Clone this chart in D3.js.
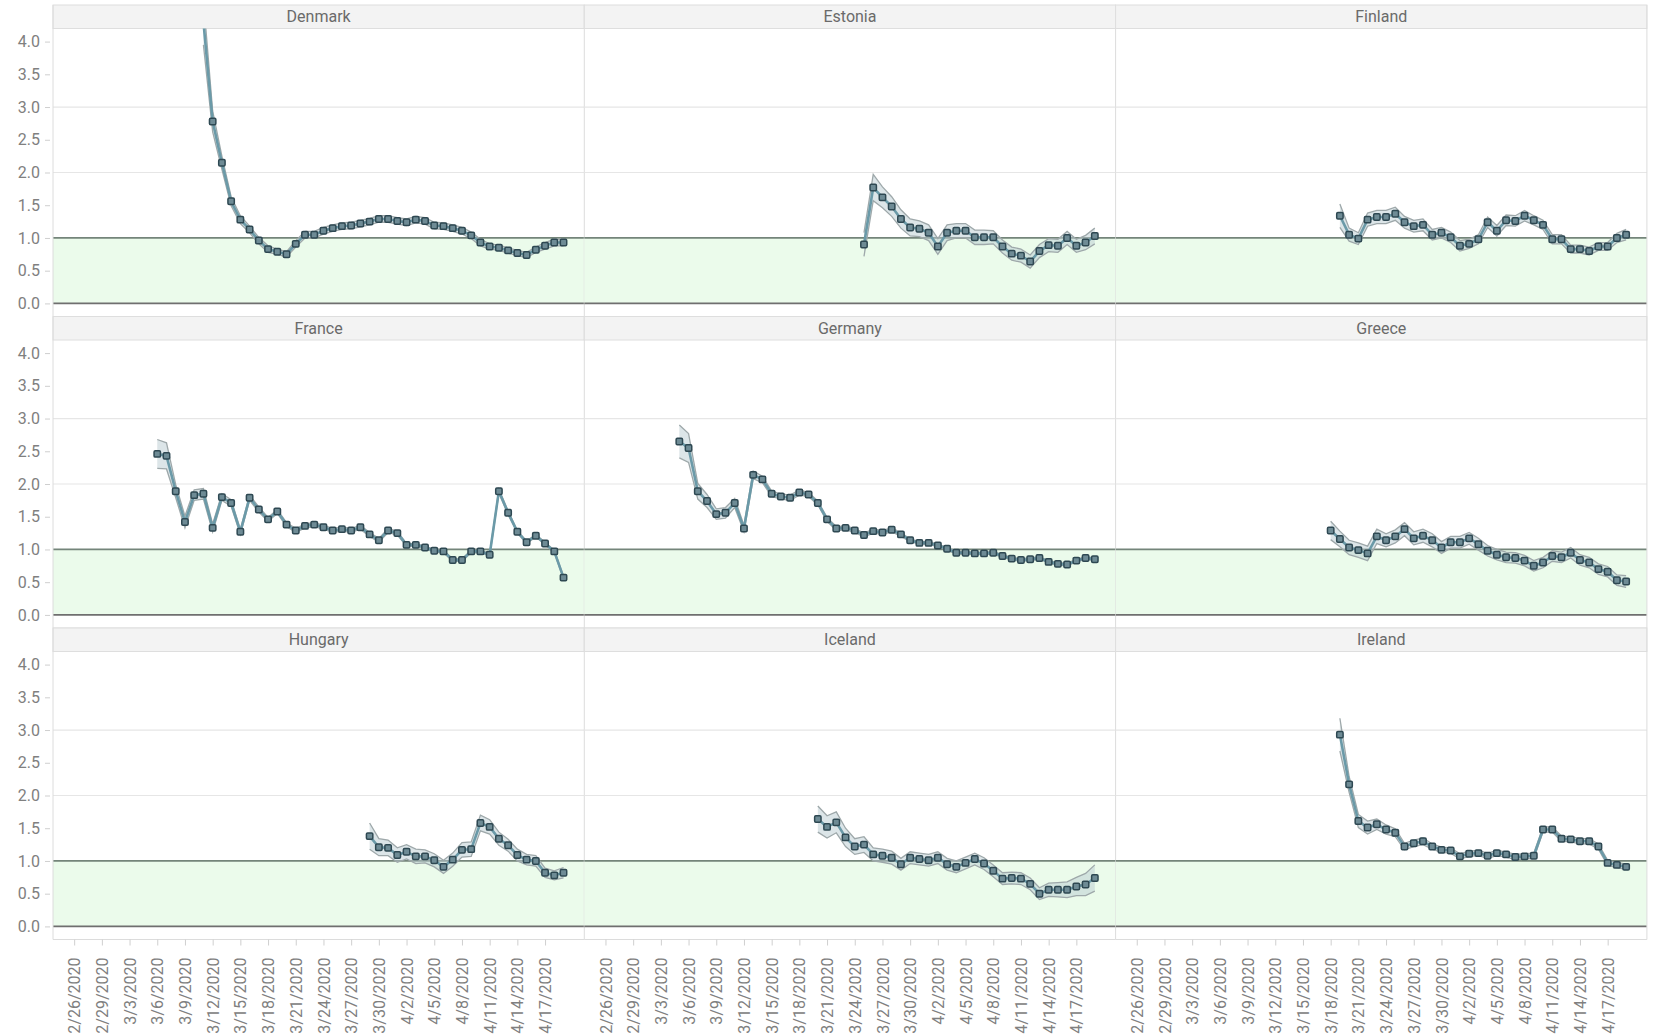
<!DOCTYPE html>
<html>
<head>
<meta charset="utf-8">
<script src="https://cdn.jsdelivr.net/npm/d3@7"></script>
<style>
  body { margin: 0; background: #fff; }
  svg { font-family: Roboto, "Noto Sans", sans-serif; }
</style>
</head>
<body>
<svg id="chart" width="1661" height="1035"></svg>
<script>
// Daily reproduction number estimates (Rt) with interval half-widths, per country.
const countries = ["Denmark", "Estonia", "Finland", "France", "Germany", "Greece", "Hungary", "Iceland", "Ireland"];
const startDates = ["2020-03-11", "2020-03-25", "2020-03-19", "2020-03-06", "2020-03-05", "2020-03-18", "2020-03-29", "2020-03-20", "2020-03-19"];

const tickLabels = ["2/26/2020", "2/29/2020", "3/3/2020", "3/6/2020", "3/9/2020", "3/12/2020", "3/15/2020", "3/18/2020",
  "3/21/2020", "3/24/2020", "3/27/2020", "3/30/2020", "4/2/2020", "4/5/2020", "4/8/2020", "4/11/2020", "4/14/2020", "4/17/2020"];
const yTicks = [0, 0.5, 1, 1.5, 2, 2.5, 3, 3.5, 4];

const rDenmark = [4.30, 2.78, 2.15, 1.56, 1.28, 1.13, 0.96, 0.83, 0.79, 0.75, 0.91, 1.05, 1.05, 1.11, 1.15, 1.18, 1.19, 1.22, 1.25, 1.29,
  1.29, 1.26, 1.24, 1.28, 1.26, 1.19, 1.18, 1.15, 1.11, 1.04, 0.93, 0.87, 0.85, 0.81, 0.77, 0.74, 0.82, 0.88, 0.93, 0.93];
const ciDenmark = [0.35, 0.16, 0.10, 0.07, 0.06, 0.05, 0.05, 0.05, 0.04, 0.04, 0.05, 0.05, 0.05, 0.05, 0.05, 0.05, 0.05, 0.05, 0.05, 0.05,
  0.05, 0.05, 0.05, 0.05, 0.05, 0.05, 0.05, 0.05, 0.05, 0.05, 0.05, 0.04, 0.04, 0.04, 0.04, 0.04, 0.04, 0.05, 0.05, 0.05];

const rEstonia = [0.90, 1.77, 1.62, 1.48, 1.29, 1.16, 1.14, 1.08, 0.87, 1.08, 1.11, 1.11, 1.01, 1.01, 1.01, 0.87, 0.76, 0.73, 0.64, 0.80,
  0.89, 0.88, 1.00, 0.88, 0.93, 1.03];
const ciEstonia = [0.18, 0.20, 0.16, 0.15, 0.14, 0.13, 0.12, 0.12, 0.12, 0.12, 0.11, 0.11, 0.11, 0.11, 0.10, 0.10, 0.10, 0.10, 0.10, 0.10,
  0.10, 0.10, 0.10, 0.10, 0.11, 0.12];

const rFinland = [1.34, 1.05, 0.99, 1.28, 1.32, 1.32, 1.37, 1.24, 1.18, 1.20, 1.05, 1.08, 1.01, 0.88, 0.91, 0.98, 1.24, 1.11, 1.27, 1.26,
  1.34, 1.27, 1.20, 0.98, 0.98, 0.83, 0.83, 0.80, 0.87, 0.87, 1.00, 1.05];
const ciFinland = [0.18, 0.10, 0.09, 0.10, 0.10, 0.10, 0.10, 0.09, 0.09, 0.09, 0.08, 0.08, 0.08, 0.08, 0.07, 0.07, 0.08, 0.08, 0.08, 0.08,
  0.08, 0.07, 0.07, 0.07, 0.07, 0.06, 0.06, 0.06, 0.06, 0.06, 0.07, 0.08];

const rFrance = [2.46, 2.43, 1.89, 1.42, 1.83, 1.85, 1.33, 1.80, 1.71, 1.27, 1.79, 1.61, 1.46, 1.58, 1.38, 1.29, 1.36, 1.38, 1.34, 1.29,
  1.31, 1.29, 1.34, 1.23, 1.14, 1.29, 1.25, 1.07, 1.07, 1.03, 0.98, 0.97, 0.84, 0.84, 0.97, 0.97, 0.92, 1.89, 1.56, 1.27,
  1.11, 1.21, 1.09, 0.97, 0.57];
const ciFrance = [0.22, 0.20, 0.10, 0.09, 0.08, 0.08, 0.06, 0.05, 0.05, 0.04, 0.04, 0.04, 0.03, 0.03, 0.03, 0.03, 0.03, 0.03, 0.03, 0.03,
  0.03, 0.03, 0.03, 0.03, 0.03, 0.03, 0.03, 0.02, 0.02, 0.02, 0.02, 0.02, 0.02, 0.02, 0.02, 0.02, 0.02, 0.03, 0.03, 0.02,
  0.02, 0.02, 0.02, 0.02, 0.02];

const rGermany = [2.65, 2.55, 1.89, 1.74, 1.54, 1.56, 1.71, 1.32, 2.14, 2.07, 1.85, 1.81, 1.79, 1.87, 1.84, 1.71, 1.46, 1.32, 1.33, 1.29,
  1.22, 1.28, 1.26, 1.30, 1.23, 1.14, 1.10, 1.10, 1.06, 1.01, 0.95, 0.95, 0.94, 0.94, 0.95, 0.90, 0.86, 0.84, 0.85, 0.87,
  0.81, 0.78, 0.77, 0.83, 0.87, 0.85];
const ciGermany = [0.25, 0.22, 0.12, 0.10, 0.08, 0.08, 0.07, 0.05, 0.06, 0.05, 0.04, 0.04, 0.04, 0.04, 0.03, 0.03, 0.03, 0.03, 0.03, 0.03,
  0.03, 0.03, 0.03, 0.03, 0.03, 0.02, 0.02, 0.02, 0.02, 0.02, 0.02, 0.02, 0.02, 0.02, 0.02, 0.02, 0.02, 0.02, 0.02, 0.02,
  0.02, 0.02, 0.02, 0.02, 0.02, 0.02];

const rGreece = [1.29, 1.16, 1.03, 0.99, 0.94, 1.20, 1.14, 1.20, 1.31, 1.17, 1.21, 1.14, 1.03, 1.11, 1.11, 1.17, 1.08, 0.98, 0.92, 0.88,
  0.87, 0.83, 0.75, 0.80, 0.90, 0.88, 0.95, 0.84, 0.80, 0.70, 0.66, 0.53, 0.51];
const ciGreece = [0.14, 0.12, 0.11, 0.11, 0.11, 0.11, 0.10, 0.10, 0.10, 0.10, 0.10, 0.10, 0.09, 0.09, 0.09, 0.09, 0.09, 0.08, 0.08, 0.08,
  0.08, 0.08, 0.08, 0.08, 0.08, 0.08, 0.08, 0.08, 0.08, 0.08, 0.08, 0.08, 0.09];

const rHungary = [1.38, 1.21, 1.20, 1.09, 1.14, 1.07, 1.07, 1.01, 0.91, 1.02, 1.17, 1.18, 1.58, 1.52, 1.34, 1.24, 1.09, 1.02, 1.00, 0.82,
  0.78, 0.82];
const ciHungary = [0.20, 0.13, 0.12, 0.11, 0.11, 0.11, 0.10, 0.10, 0.10, 0.10, 0.11, 0.11, 0.12, 0.11, 0.10, 0.09, 0.09, 0.08, 0.08, 0.07,
  0.07, 0.08];

const rIceland = [1.64, 1.52, 1.59, 1.36, 1.22, 1.25, 1.10, 1.08, 1.05, 0.95, 1.05, 1.03, 1.01, 1.05, 0.95, 0.91, 0.97, 1.03, 0.96, 0.85,
  0.73, 0.74, 0.73, 0.65, 0.50, 0.56, 0.56, 0.56, 0.61, 0.64, 0.74];
const ciIceland = [0.20, 0.17, 0.16, 0.14, 0.12, 0.12, 0.10, 0.10, 0.10, 0.09, 0.09, 0.09, 0.09, 0.09, 0.09, 0.09, 0.09, 0.09, 0.09, 0.09,
  0.09, 0.09, 0.09, 0.09, 0.09, 0.10, 0.11, 0.12, 0.14, 0.17, 0.20];

const rIreland = [2.93, 2.17, 1.61, 1.51, 1.56, 1.48, 1.43, 1.22, 1.27, 1.30, 1.22, 1.17, 1.16, 1.07, 1.11, 1.12, 1.08, 1.12, 1.10, 1.06,
  1.07, 1.08, 1.48, 1.48, 1.34, 1.33, 1.30, 1.30, 1.22, 0.97, 0.94, 0.91];
const ciIreland = [0.25, 0.12, 0.10, 0.10, 0.08, 0.07, 0.06, 0.05, 0.05, 0.05, 0.04, 0.04, 0.04, 0.04, 0.04, 0.04, 0.04, 0.04, 0.04, 0.04,
  0.04, 0.04, 0.04, 0.04, 0.04, 0.04, 0.04, 0.04, 0.04, 0.04, 0.04, 0.04];

const rValues = [rDenmark, rEstonia, rFinland, rFrance, rGermany, rGreece, rHungary, rIceland, rIreland];
const ciValues = [ciDenmark, ciEstonia, ciFinland, ciFrance, ciGermany, ciGreece, ciHungary, ciIceland, ciIreland];

// ---- layout ----
const svg = d3.select("#chart");
const left = 53, top0 = 5;
const colW = 531.3, rowH = 311.5, headH = 23.5;
const plotH = rowH - headH;

const parseDay = d3.utcParse("%Y-%m-%d");
const parseTick = d3.utcParse("%m/%d/%Y");

const x = d3.scaleUtc()
  .domain([Date.UTC(2020, 1, 23, 17), Date.UTC(2020, 3, 21, 6)])
  .range([0, colW]);
const y = d3.scaleLinear().domain([-0.2, 4.2]).range([plotH, 0]);

const defs = svg.append("defs");
defs.append("clipPath").attr("id", "plotClip")
  .append("rect").attr("x", 0).attr("y", 0).attr("width", colW).attr("height", plotH);

const series = countries.map((name, i) => {
  const start = parseDay(startDates[i]);
  return {
    name,
    points: rValues[i].map((v, k) => ({
      date: d3.utcDay.offset(start, k),
      r: v,
      lo: v - ciValues[i][k],
      hi: v + ciValues[i][k]
    }))
  };
});

const lineMain = d3.line().x(d => x(d.date)).y(d => y(d.r));
const lineLo = d3.line().x(d => x(d.date)).y(d => y(d.lo));
const lineHi = d3.line().x(d => x(d.date)).y(d => y(d.hi));
const band = d3.area().x(d => x(d.date)).y0(d => y(d.lo)).y1(d => y(d.hi));

series.forEach((s, i) => {
  const col = i % 3, row = Math.floor(i / 3);
  const g = svg.append("g").attr("transform", `translate(${left + col * colW},${top0 + row * rowH})`);

  // facet header
  g.append("rect").attr("x", 0).attr("y", 0).attr("width", colW).attr("height", headH)
    .attr("fill", "#f3f3f3").attr("stroke", "#dedede").attr("stroke-width", 1);
  g.append("text").attr("x", colW / 2).attr("y", headH / 2 + 5.5)
    .attr("text-anchor", "middle").attr("font-size", 16).attr("fill", "#6a6a6a")
    .text(s.name);

  const p = g.append("g").attr("transform", `translate(0,${headH})`);

  // region below R = 1
  p.append("rect").attr("x", 0).attr("width", colW)
    .attr("y", y(1)).attr("height", y(0) - y(1))
    .attr("fill", "#ebfbeb");

  // light gridlines
  [2, 3].forEach(v => {
    p.append("line").attr("x1", 0).attr("x2", colW).attr("y1", y(v)).attr("y2", y(v))
      .attr("stroke", "#e6e6e6").attr("stroke-width", 1.2);
  });
  p.append("line").attr("x1", 0).attr("x2", colW).attr("y1", y(1)).attr("y2", y(1))
    .attr("stroke", "#74857a").attr("stroke-width", 1.8);
  p.append("line").attr("x1", 0).attr("x2", colW).attr("y1", y(0)).attr("y2", y(0))
    .attr("stroke", "#6f6f6f").attr("stroke-width", 1.8);

  // panel frame
  g.append("line").attr("x1", colW).attr("x2", colW).attr("y1", 0).attr("y2", rowH)
    .attr("stroke", "#dcdcdc");
  if (col === 0) {
    g.append("line").attr("x1", 0).attr("x2", 0).attr("y1", 0).attr("y2", rowH)
      .attr("stroke", "#dcdcdc");
  }
  g.append("line").attr("x1", 0).attr("x2", colW).attr("y1", rowH).attr("y2", rowH)
    .attr("stroke", "#dcdcdc");

  const marks = p.append("g").attr("clip-path", "url(#plotClip)");
  marks.append("path").datum(s.points).attr("d", band)
    .attr("fill", "#b9ccd2").attr("fill-opacity", 0.5);
  marks.append("path").datum(s.points).attr("d", lineHi)
    .attr("fill", "none").attr("stroke", "#9ea8aa").attr("stroke-width", 1.3);
  marks.append("path").datum(s.points).attr("d", lineLo)
    .attr("fill", "none").attr("stroke", "#9ea8aa").attr("stroke-width", 1.3);
  marks.append("path").datum(s.points).attr("d", lineMain)
    .attr("fill", "none").attr("stroke", "#6b9aa8").attr("stroke-width", 2.6)
    .attr("stroke-linejoin", "round");
  marks.selectAll("rect.pt").data(s.points).join("rect")
    .attr("class", "pt")
    .attr("x", d => x(d.date) - 3.2).attr("y", d => y(d.r) - 3.2)
    .attr("width", 6.4).attr("height", 6.4).attr("rx", 1.2)
    .attr("fill", "#6e8b95").attr("stroke", "#2e4852").attr("stroke-width", 1.5);

  // y axis on the first column
  if (col === 0) {
    const ya = p.append("g").attr("transform", "translate(-3,0)")
      .call(d3.axisLeft(y).tickValues(yTicks).tickFormat(d3.format(".1f")).tickSize(5).tickPadding(5));
    ya.select(".domain").remove();
    ya.selectAll(".tick line").attr("stroke", "#cfcfcf");
    ya.selectAll(".tick text").attr("font-size", 16).attr("fill", "#808080")
      .attr("font-family", "Roboto, 'Noto Sans', sans-serif");
  }

  // date axis under the bottom row
  if (row === 2) {
    const xa = g.append("g").attr("transform", `translate(0,${rowH})`)
      .call(d3.axisBottom(x).tickValues(tickLabels.map(t => parseTick(t)))
        .tickFormat((d, k) => tickLabels[k]).tickSize(6));
    xa.select(".domain").remove();
    xa.selectAll(".tick line").attr("stroke", "#cfcfcf");
    xa.selectAll(".tick text")
      .attr("transform", "rotate(-90)")
      .attr("x", -18).attr("y", 0).attr("dy", "0.35em")
      .attr("text-anchor", "end")
      .attr("font-size", 16).attr("fill", "#808080")
      .attr("font-family", "Roboto, 'Noto Sans', sans-serif");
  }
});
</script>
</body>
</html>
